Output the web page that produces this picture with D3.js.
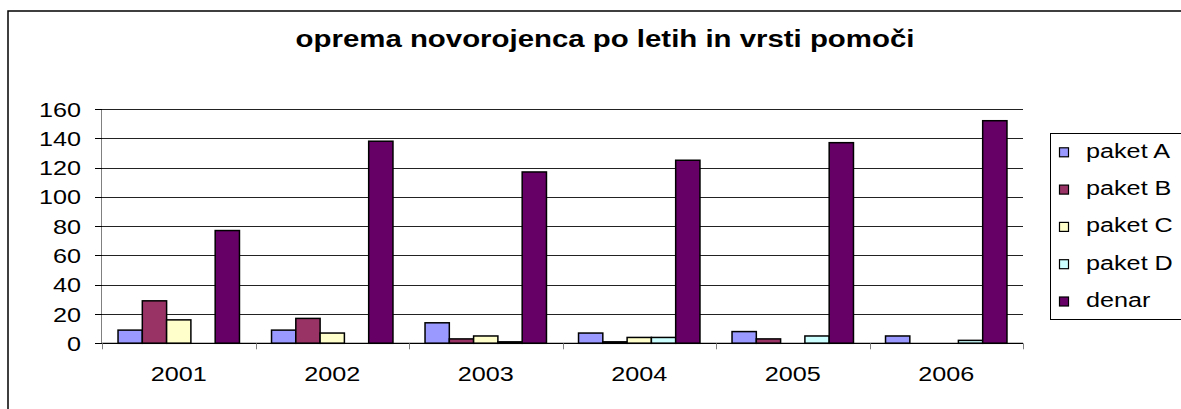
<!DOCTYPE html>
<html>
<head>
<meta charset="utf-8">
<script src="https://cdn.jsdelivr.net/npm/d3@7"></script>
<style>
  body { margin: 0; background: #fff; }
  text { font-family: "Liberation Sans", Arial, sans-serif; fill: #000; }
</style>
</head>
<body>
<div id="chart"></div>
<script>
const years = ["2001", "2002", "2003", "2004", "2005", "2006"];
const seriesNames = ["paket A", "paket B", "paket C", "paket D", "denar"];
const paketA = [9, 9, 14, 7, 8, 5];
const paketB = [29, 17, 3, 1, 3, 0];
const paketC = [16, 7, 5, 4, 0, 0];
const paketD = [0, 0, 1, 4, 5, 2];
const denar = [77, 138, 117, 125, 137, 152];
const yTicks = [0, 20, 40, 60, 80, 100, 120, 140, 160];
const colors = ["#9999FF", "#993366", "#FFFFCC", "#CCFFFF", "#660066"];
const title = "oprema novorojenca po letih in vrsti pomoči";

const values = [paketA, paketB, paketC, paketD, denar];

const width = 1181, height = 409;
const sx = 1.2; // the original picture is stretched sideways

const svg = d3.select("#chart").append("svg")
    .attr("width", width)
    .attr("height", height);

// chart frame
svg.append("rect")
    .attr("x", 8).attr("y", 11)
    .attr("width", 1200).attr("height", 420)
    .attr("fill", "#fff")
    .attr("stroke", "#000")
    .attr("stroke-width", 1.5);

function label(g, x, y, txt, size, anchor, bold) {
    return g.append("text")
        .attr("transform", `translate(${x},${y}) scale(${sx},1)`)
        .attr("text-anchor", anchor)
        .attr("font-size", size)
        .attr("font-weight", bold ? "bold" : "normal")
        .text(txt);
}

label(svg, 605, 47, title, 24.5, "middle", true);

const x0 = d3.scaleBand().domain(years).range([102, 1023]);
const x1 = d3.scaleBand().domain(seriesNames)
    .range([0, x0.bandwidth()])
    .paddingInner(0).paddingOuter(0.66);
const y = d3.scaleLinear().domain([0, 160]).range([343.3, 109]);

// gridlines
svg.append("g").selectAll("line").data(yTicks.slice(1)).join("line")
    .attr("x1", 102).attr("x2", 1023)
    .attr("y1", d => Math.round(y(d)) + 0.5).attr("y2", d => Math.round(y(d)) + 0.5)
    .attr("stroke", "#222").attr("stroke-width", 1);

// y axis
const yAxis = svg.append("g");
yAxis.append("line")
    .attr("x1", 101.5).attr("x2", 101.5)
    .attr("y1", y(160)).attr("y2", y(0))
    .attr("stroke", "#808080");
yAxis.selectAll("line.tick").data(yTicks).join("line")
    .attr("class", "tick")
    .attr("x1", 95).attr("x2", 102)
    .attr("y1", d => Math.round(y(d)) + 0.5).attr("y2", d => Math.round(y(d)) + 0.5)
    .attr("stroke", "#000");
yTicks.forEach(t => {
    label(yAxis, 81, y(t) + 7.5, t, 21, "end", false);
});

// bars
const bars = svg.append("g");
seriesNames.forEach((s, i) => {
    bars.append("g").selectAll("rect").data(values[i]).join("rect")
        .attr("x", (d, j) => x0(years[j]) + x1(s))
        .attr("width", x1.bandwidth())
        .attr("y", d => y(d))
        .attr("height", d => y(0) - y(d))
        .attr("fill", colors[i])
        .attr("stroke", "#000")
        .attr("stroke-width", 1.5)
        .attr("display", d => d > 0 ? null : "none");
});

// x axis
const xAxis = svg.append("g");
xAxis.append("line")
    .attr("x1", 102).attr("x2", 1023)
    .attr("y1", y(0)).attr("y2", y(0))
    .attr("stroke", "#000").attr("stroke-width", 1.2);
const edges = years.map(d => x0(d)).concat([1023]);
xAxis.selectAll("line.tick").data(edges).join("line")
    .attr("class", "tick")
    .attr("x1", d => Math.round(d) + 0.5).attr("x2", d => Math.round(d) + 0.5)
    .attr("y1", y(0)).attr("y2", y(0) + 6)
    .attr("stroke", "#808080");
years.forEach(yr => {
    label(xAxis, x0(yr) + x0.bandwidth() / 2, 381, yr, 21, "middle", false);
});

// legend
const legend = svg.append("g");
legend.append("rect")
    .attr("x", 1050.5).attr("y", 133.5)
    .attr("width", 140).attr("height", 186)
    .attr("fill", "#fff")
    .attr("stroke", "#000").attr("stroke-width", 1);
seriesNames.forEach((s, i) => {
    const cy = 152.3 + i * 37.3;
    legend.append("rect")
        .attr("x", 1059.5).attr("y", cy - 4.5)
        .attr("width", 9).attr("height", 9)
        .attr("fill", colors[i])
        .attr("stroke", "#000").attr("stroke-width", 1.2);
    label(legend, 1086, cy + 5.5, s, 21, "start", false);
});
</script>
</body>
</html>
